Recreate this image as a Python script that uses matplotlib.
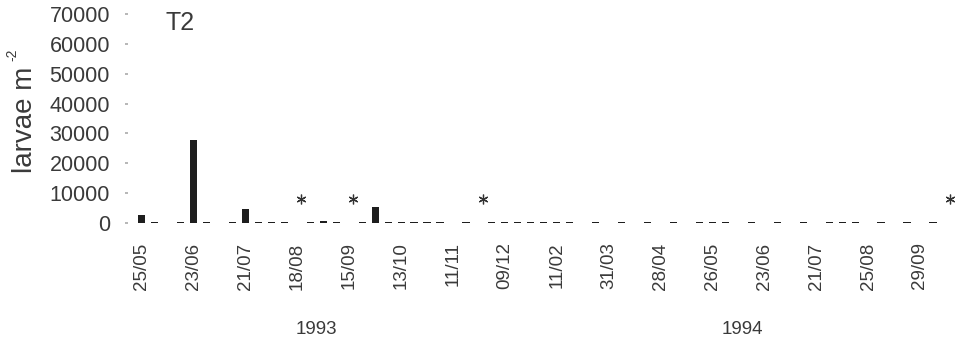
import numpy as np
import matplotlib.pyplot as plt
import matplotlib.transforms as mtransforms

# sampling occasions (category axis), only every 4th one is labelled
tick_labels = ['25/05', '23/06', '21/07', '18/08', '15/09', '13/10', '11/11', '09/12',
               '11/02', '31/03', '28/04', '26/05', '23/06', '21/07', '25/08', '29/09']
label_step = 4

# larvae m^-2 at each sampling occasion (0 = none found)
larvae = [2700, 220, 0, 200, 27800, 220, 0, 200, 4600, 250,
          500, 220, 0, 200, 600, 220, 0, 220, 5300, 250,
          450, 220, 450, 220, 0, 200, 0, 200, 200, 200,
          200, 200, 200, 200, 0, 200, 0, 200, 0, 200,
          0, 200, 0, 220, 250, 200, 0, 200, 0, 200,
          0, 200, 0, 200, 200, 200, 0, 200, 0, 200,
          0, 200, 0]

# occasions marked with an asterisk
star_idx = [12, 16, 26, 62]
star_level = 8000

years = ['1993', '1994']
year_pos = [13.5, 46.3]

text_col = '#3a3a3a'
plt.rcParams['font.family'] = ['Liberation Sans', 'DejaVu Sans']

fig = plt.figure(figsize=(9.55, 3.46), dpi=100)
ax = fig.add_axes([128 / 955, 123 / 346, 827 / 955, 209 / 346])

x = np.arange(len(larvae))
ax.bar(x, larvae, width=0.55, color='#1e1e1e')

# asterisks, drawn a little right of the occasion
star_off = mtransforms.offset_copy(ax.transData, fig=fig, x=4, y=0, units='dots')
ax.plot(star_idx, [star_level] * len(star_idx), linestyle='none',
        marker=(6, 2, 0), markersize=7, color='#333333', markeredgewidth=0.9,
        transform=star_off, clip_on=False)

ax.set_xlim(-1.05, 62.7)
ax.set_ylim(0, 70000)
ax.set_yticks(np.arange(0, 70001, 10000))
ax.set_yticklabels([str(v) for v in range(0, 70001, 10000)])
ax.set_xticks(x[::label_step][:len(tick_labels)])
ax.set_xticklabels(tick_labels, rotation=90)

for s in ax.spines.values():
    s.set_visible(False)
ax.tick_params(axis='y', length=2, width=1.2, color='#aaaaaa', pad=11,
               labelsize=15.5, labelcolor=text_col)
ax.tick_params(axis='x', length=0, pad=14, labelsize=13.5, labelcolor=text_col)

ax.text(3.0, 67000, 'T2', fontsize=18, color=text_col, ha='center', va='center')

fig.text(25 / 955, (346 - 120) / 346, 'larvae m', rotation=90, fontsize=20,
         color=text_col, ha='center', va='center')
fig.text(12 / 955, (346 - 55) / 346, '-2', rotation=90, fontsize=10,
         color=text_col, ha='center', va='center')

trans = mtransforms.blended_transform_factory(ax.transData, fig.transFigure)
for yr, pos in zip(years, year_pos):
    ax.text(pos, 16 / 346, yr, transform=trans, fontsize=13.5, color=text_col,
            ha='center', va='center')

fig.savefig('out.png', dpi=100)
